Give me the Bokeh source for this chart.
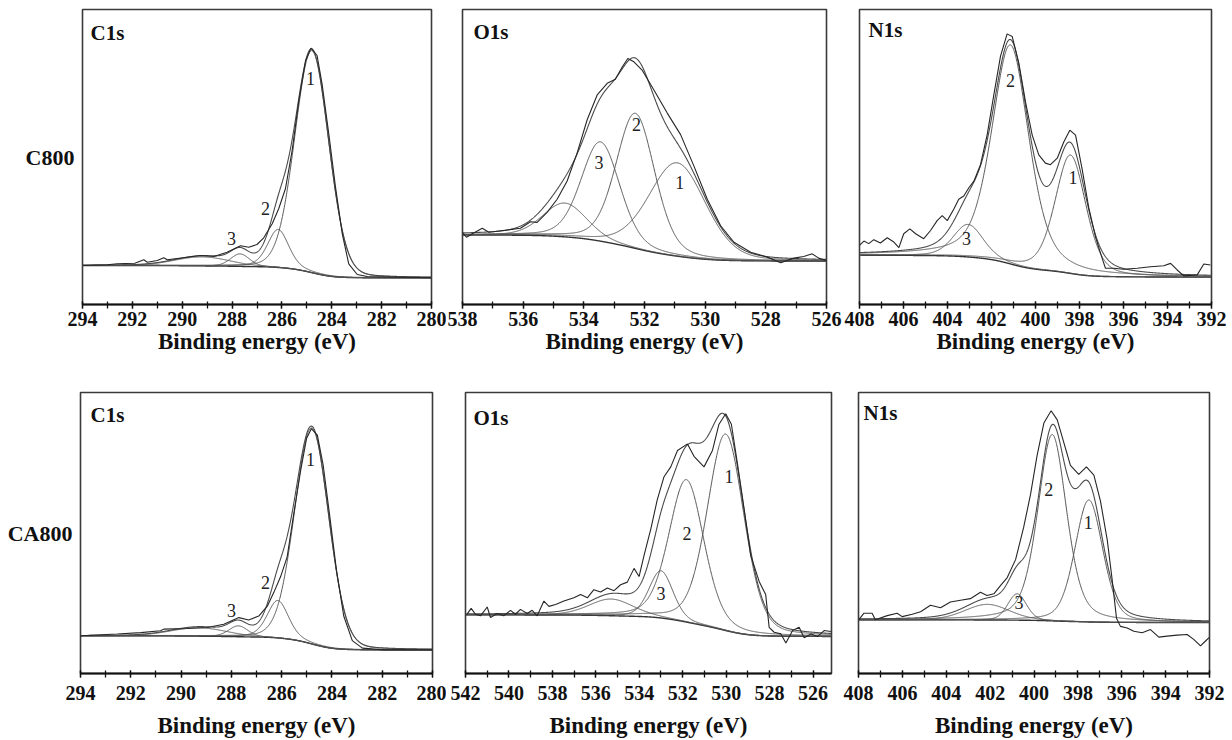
import numpy as np
from bokeh.plotting import figure
from bokeh.layouts import row, column
from bokeh.models import Range1d, FixedTicker
from bokeh.core.properties import value
from bokeh.embed import file_html
from bokeh.resources import INLINE

SERIF = "Liberation Serif"

# ------------------------------------------------------------------ data
# Intensities are arbitrary units (a.u.).
# ---- C800, C1s
c800_c1s_meas_be = [293.97, 293.0, 292.61, 291.9, 291.54, 291.4, 291.0, 290.74, 290.6, 289.8,
                    289.27, 288.73, 288.2, 287.66, 287.33, 287.0, 286.73, 286.39, 286.13,
                    285.86, 285.59, 285.32, 285.05, 284.83, 284.59, 284.39, 284.12, 283.85,
                    283.58, 283.32, 282.98, 282.58, 281.3, 280.0]
c800_c1s_meas_int = [39, 39.8, 40.7, 41.3, 44.7, 42.3, 44.0, 46.7, 44.7, 47.3,
                     49, 48, 52.3, 58.7, 57.3, 60, 66.7, 80.7, 95.7,
                     115.7, 154, 204, 244, 256.3, 249, 220.7, 170.7, 117.3,
                     70.7, 40.7, 30, 28, 27.3, 26.7]
c800_c1s_peak_be = [284.8, 286.15, 287.68, 289.2]
c800_c1s_peak_h = [222, 38, 12.5, 9]
c800_c1s_peak_fwhm = [1.6, 1.0, 0.9, 2.6]
c800_c1s_peak_lor = [0.1, 0.35, 0.2, 0.1]
c800_c1s_bg = [39, 26.7]          # high-BE end, low-BE end

# ---- C800, O1s
c800_o1s_meas_be = [538.01, 537.87, 537.63, 537.35, 537.13, 536.53, 536.09, 535.76, 535.54,
                    535.21, 534.88, 534.55, 534.22, 533.89, 533.56, 533.23, 532.96, 532.73,
                    532.55, 532.35, 532.08, 531.69, 531.25, 530.81, 530.37, 529.93, 529.49,
                    529.05, 528.5, 527.95, 527.51, 527.08, 526.75, 526.47, 526.26, 526.01]
c800_o1s_meas_int = [72.7, 67.7, 72, 76.7, 72.7, 75, 76.7, 83.3, 82.7,
                     92.7, 106, 124.3, 152.7, 186, 211, 222.7, 226.7, 239.3,
                     247.7, 244.3, 236, 216, 192.7, 171, 139.3, 106, 79.3,
                     62.7, 52.7, 47.7, 42, 46.7, 48.3, 51, 46.7, 44.3]
c800_o1s_peak_be = [530.92, 532.3, 533.45, 534.63]
c800_o1s_peak_h = [94, 136, 100, 34]
c800_o1s_peak_fwhm = [2.2, 1.5, 1.5, 1.7]
c800_o1s_peak_lor = [0.2, 0.25, 0.25, 0.2]
c800_o1s_bg = [70, 43.7]

# ---- C800, N1s
c800_n1s_meas_be = [408.0, 407.8, 407.58, 407.35, 407.05, 406.74, 406.44, 406.21, 405.99,
                    405.71, 405.45, 405.08, 404.77, 404.47, 404.24, 404.01, 403.71, 403.49,
                    403.26, 403.03, 402.8, 402.5, 402.2, 401.9, 401.59, 401.29, 401.06,
                    400.76, 400.45, 400.15, 399.85, 399.55, 399.32, 399.01, 398.71, 398.44,
                    398.18, 397.88, 397.58, 397.27, 396.97, 396.82, 396.44, 395.99, 395.38,
                    394.77, 394.17, 393.86, 393.56, 393.26, 392.65, 392.35, 392.05]
c800_n1s_meas_int = [60, 64.3, 61.7, 65.7, 62.3, 67.7, 63.3, 57.7, 71.7,
                     76.7, 71.7, 66.7, 75, 85, 90, 85, 96.7, 106.7,
                     110, 118.3, 125, 141.7, 171.7, 211.7, 251.7, 274.3, 271.7,
                     245, 205, 171.7, 151.7, 143.3, 141.7, 148.3, 165, 176.7,
                     171.7, 137.3, 98.3, 68.3, 46.7, 36.7, 36.7, 35.7, 36.7,
                     38.3, 39.3, 41.7, 35, 29, 30, 41, 40]
c800_n1s_peak_be = [398.41, 401.14, 403.06]
c800_n1s_peak_h = [120, 222, 33]
c800_n1s_peak_fwhm = [1.65, 2.0, 1.6]
c800_n1s_peak_lor = [0.35, 0.45, 0.3]
c800_n1s_bg = [50, 27.7]

# ---- CA800, C1s
ca800_c1s_meas_be = [294.0, 292.54, 291.6, 290.82, 290.69, 289.76, 288.96, 288.3, 287.7,
                     287.31, 286.91, 286.57, 286.31, 286.04, 285.78, 285.52, 285.25, 285.01,
                     284.82, 284.58, 284.35, 284.08, 283.82, 283.53, 283.19, 282.79, 281.93,
                     280.0]
ca800_c1s_meas_int = [38.3, 40, 41.5, 43.3, 45, 45.7, 46.7, 50, 56.7,
                      54.3, 58.3, 68.3, 82.3, 98.3, 118.3, 161.7, 205, 238.3,
                      248.3, 241.7, 211.7, 158.3, 105, 58.3, 33.3, 25.7, 24,
                      24]
ca800_c1s_peak_be = [284.8, 286.15, 287.72, 289.3]
ca800_c1s_peak_h = [219, 38, 11, 8.5]
ca800_c1s_peak_fwhm = [1.6, 1.0, 0.9, 2.6]
ca800_c1s_peak_lor = [0.1, 0.35, 0.2, 0.1]
ca800_c1s_bg = [38.3, 24]

# ---- CA800, O1s
ca800_o1s_meas_be = [541.95, 541.74, 541.54, 541.31, 541.0, 540.85, 540.54, 540.24, 539.93,
                     539.7, 539.47, 539.16, 538.93, 538.7, 538.39, 538.16, 537.85, 537.47,
                     537.01, 536.7, 536.39, 536.09, 535.78, 535.47, 535.16, 534.86, 534.55,
                     534.24, 534.01, 533.78, 533.47, 533.17, 532.86, 532.55, 532.24, 531.78,
                     531.48, 531.02, 530.63, 530.33, 530.02, 529.76, 529.48, 529.17, 528.87,
                     528.48, 528.18, 528.02, 527.79, 527.48, 527.25, 526.94, 526.64, 526.41,
                     526.1, 525.79, 525.49, 525.18]
ca800_o1s_meas_int = [59.7, 66.3, 60.3, 58.7, 67.7, 57, 61, 58.7, 64.3,
                      60.3, 65.3, 61, 64.3, 58.7, 73.7, 68.3, 70.3, 73.7,
                      77, 80.3, 77, 85.3, 83, 87, 84.3, 90.3, 93,
                      107, 98.7, 120.3, 147, 177, 200.3, 210.3, 227, 233.7,
                      221, 210.3, 227, 253.7, 264.3, 253.7, 213.7, 167, 120.3,
                      93.7, 80.3, 47, 42, 40.3, 31, 43.7, 47, 36.3,
                      40.3, 37.7, 43.7, 42.7]
ca800_o1s_peak_be = [530.02, 531.83, 533.0, 535.3]
ca800_o1s_peak_h = [200, 145, 48, 17]
ca800_o1s_peak_fwhm = [2.0, 1.9, 1.3, 2.4]
ca800_o1s_peak_lor = [0.25, 0.3, 0.25, 0.25]
ca800_o1s_bg = [59.7, 37.7]

# ---- CA800, N1s
ca800_n1s_meas_be = [407.99, 407.76, 407.38, 407.23, 406.69, 406.24, 406.01, 405.55, 405.17,
                     404.72, 404.26, 403.81, 403.35, 402.9, 402.44, 402.14, 401.83, 401.53,
                     401.22, 400.84, 400.47, 400.16, 399.86, 399.55, 399.22, 398.94, 398.64,
                     398.34, 397.96, 397.61, 397.27, 396.97, 396.66, 396.44, 396.24, 396.06,
                     395.75, 395.45, 395.07, 394.69, 394.31, 393.93, 393.47, 393.02, 392.72,
                     392.41, 392.18, 392.02]
ca800_n1s_meas_int = [55, 61.7, 61.7, 55, 59.3, 61.7, 58.3, 60.7, 63.3,
                      70, 67.3, 73.3, 75, 76.7, 83.3, 80, 81.7, 90,
                      98.3, 116.7, 150, 183.3, 223.3, 256.7, 269.3, 260, 236.7,
                      213.3, 204, 211.7, 203.3, 176.7, 136.7, 96.7, 56.7, 48.3,
                      46.7, 43.3, 41.7, 45, 37.3, 38.3, 39.3, 40, 35,
                      28.3, 33.3, 36.7]
ca800_n1s_peak_be = [397.5, 399.17, 400.77, 402.13]
ca800_n1s_peak_h = [125, 191, 27, 16]
ca800_n1s_peak_fwhm = [1.5, 1.55, 1.0, 2.4]
ca800_n1s_peak_lor = [0.3, 0.4, 0.2, 0.2]
ca800_n1s_bg = [55, 52.3]

row_names = ["C800", "CA800"]
core_levels = ["C1s", "O1s", "N1s"]
peak_names = ["1", "2", "3"]
x_title = "Binding energy (eV)"

# ------------------------------------------------------------------ helpers
def gl(x, c, h, w, m):
    d2 = 4.0 * ((x - c) / w) ** 2
    return h * ((1.0 - m) * np.exp(-np.log(2.0) * d2) + m / (1.0 + d2))


def panel(title, x_start, x_end, y_top, meas_be, meas_int,
          pk_be, pk_h, pk_w, pk_m, bg, label_pos, title_pos, geom,
          label_standoff, axis_standoff, row_name=None):
    width, height, bl, br, bt, bb = geom
    lo, hi = min(x_start, x_end), max(x_start, x_end)
    first = int(np.ceil(lo))
    first_even = first + (first % 2)
    major = list(range(first_even, int(hi) + 1, 2))
    minor = list(range(first, int(hi) + 1))

    p = figure(width=width, height=height, output_backend="svg", toolbar_location=None,
               x_range=Range1d(x_start, x_end), y_range=Range1d(0, y_top),
               y_axis_location="left" if row_name else None, title=None,
               min_border_left=bl, min_border_right=br,
               min_border_top=bt, min_border_bottom=bb)
    p.grid.visible = False
    p.outline_line_color = "#3a3a3a"
    p.outline_line_width = 1.6
    p.background_fill_color = "white"
    p.border_fill_color = "white"

    ax = p.xaxis[0]
    ax.ticker = FixedTicker(ticks=major, minor_ticks=minor)
    ax.axis_line_color = "#111111"
    ax.axis_line_width = 2
    ax.major_tick_in = 3
    ax.major_tick_out = 4
    ax.minor_tick_in = 3
    ax.minor_tick_out = 4
    ax.major_tick_line_color = "#111111"
    ax.minor_tick_line_color = "#111111"
    ax.major_tick_line_width = 1.3
    ax.minor_tick_line_width = 1.3
    ax.major_label_text_font = SERIF
    ax.major_label_text_font_style = "bold"
    ax.major_label_text_font_size = "20px"
    ax.major_label_text_color = "#111111"
    ax.major_label_standoff = label_standoff
    ax.axis_label = x_title
    ax.axis_label_text_font = SERIF
    ax.axis_label_text_font_style = "bold"
    ax.axis_label_text_font_size = "23px"
    ax.axis_label_text_color = "#111111"
    ax.axis_label_standoff = axis_standoff

    if row_name:
        yax = p.yaxis[0]
        yax.ticker = FixedTicker(ticks=[], minor_ticks=[])
        yax.axis_line_color = None
        yax.major_tick_line_color = None
        yax.minor_tick_line_color = None
        yax.major_label_text_font_size = "0px"
        yax.axis_label = row_name
        yax.axis_label_orientation = "horizontal"
        yax.axis_label_text_font = SERIF
        yax.axis_label_text_font_style = "bold"
        yax.axis_label_text_font_size = "22px"
        yax.axis_label_text_color = "#111111"
        yax.axis_label_standoff = 8

    xg = np.linspace(lo, hi, 1200)
    comps = [gl(xg, c, h, w, m) for c, h, w, m in zip(pk_be, pk_h, pk_w, pk_m)]
    total = np.sum(comps, axis=0)
    cum = np.cumsum(total)
    cum = cum / cum[-1]
    back = bg[1] + (bg[0] - bg[1]) * cum      # Shirley-type background

    p.line(xg, back, line_color="#333333", line_width=1.4)
    for comp in comps:
        p.line(xg, comp + back, line_color="#555555", line_width=1.0)
    p.line(xg, total + back, line_color="#4a4a4a", line_width=1.1)
    p.line(meas_be, meas_int, line_color="#262626", line_width=1.1)

    lx, ly = label_pos
    p.text(x=lx, y=ly, text=peak_names, text_font=value(SERIF), text_font_size="18px",
           text_color="#222222", text_align="center", text_baseline="middle")
    p.text(x=[title_pos[0]], y=[title_pos[1]], text=[title], text_font=value(SERIF),
           text_font_style="bold", text_font_size="21px", text_color="#111111",
           text_align="left", text_baseline="middle")
    return p


# ------------------------------------------------------------------ panels
p1 = panel(core_levels[0], 294, 280, 295, c800_c1s_meas_be, c800_c1s_meas_int,
           c800_c1s_peak_be, c800_c1s_peak_h, c800_c1s_peak_fwhm, c800_c1s_peak_lor, c800_c1s_bg,
           ([284.85, 286.66, 288.02], [226, 96, 66]), (293.68, 272),
           (446, 370, 82, 15, 9, 66), 3, 0, row_name=row_names[0])

p2 = panel(core_levels[1], 538, 526, 297, c800_o1s_meas_be, c800_o1s_meas_int,
           c800_o1s_peak_be, c800_o1s_peak_h, c800_o1s_peak_fwhm, c800_o1s_peak_lor, c800_o1s_bg,
           ([530.84, 532.26, 533.5], [123.3, 181, 142.7]), (537.64, 274),
           (396, 370, 16, 16, 9, 64), 3, 0)

p3 = panel(core_levels[2], 408, 392, 299, c800_n1s_meas_be, c800_n1s_meas_int,
           c800_n1s_peak_be, c800_n1s_peak_h, c800_n1s_peak_fwhm, c800_n1s_peak_lor, c800_n1s_bg,
           ([398.29, 401.14, 403.14], [128.3, 226.7, 66.7]), (407.59, 278.3),
           (390, 370, 17, 21, 6, 65), 3, 0)

p4 = panel(core_levels[0], 294, 280, 285, ca800_c1s_meas_be, ca800_c1s_meas_int,
           ca800_c1s_peak_be, ca800_c1s_peak_h, ca800_c1s_peak_fwhm, ca800_c1s_peak_lor, ca800_c1s_bg,
           ([284.85, 286.64, 287.99], [217, 92.3, 64.3]), (293.6, 262),
           (446, 370, 80, 14, 20, 65), 8, 10, row_name=row_names[1])

p5 = panel(core_levels[1], 542, 525.15, 286, ca800_o1s_meas_be, ca800_o1s_meas_int,
           ca800_o1s_peak_be, ca800_o1s_peak_h, ca800_o1s_peak_fwhm, ca800_o1s_peak_lor, ca800_o1s_bg,
           ([529.87, 531.8, 533.0], [201, 142, 81]), (541.63, 260.3),
           (396, 370, 19, 11, 21, 63), 8, 10)

p6 = panel(core_levels[2], 408, 392, 288, ca800_n1s_meas_be, ca800_n1s_meas_int,
           ca800_n1s_peak_be, ca800_n1s_peak_h, ca800_n1s_peak_fwhm, ca800_n1s_peak_lor, ca800_n1s_bg,
           ([397.53, 399.33, 400.68], [155, 188.3, 72.7]), (407.77, 267),
           (390, 370, 16, 23, 22, 60), 8, 10)

layout = column(row(p1, p2, p3), row(p4, p5, p6))
open("out.html", "w").write(file_html(layout, INLINE))
